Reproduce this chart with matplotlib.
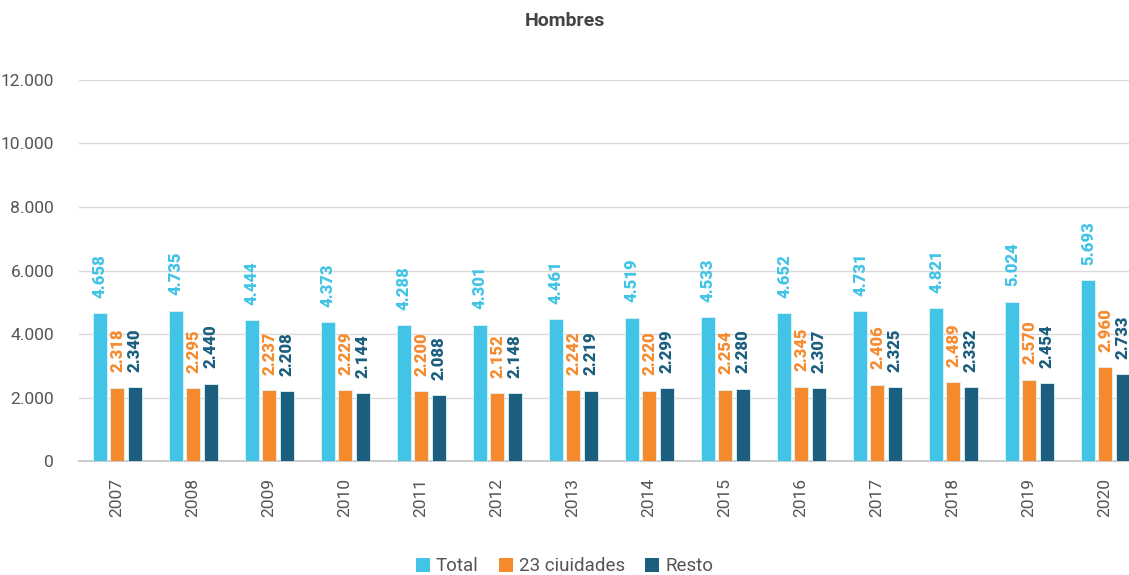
import numpy as np
import matplotlib.pyplot as plt
from matplotlib.patches import Patch

plt.rcParams['font.family'] = ['Roboto', 'DejaVu Sans']

# Data
years = ['2007', '2008', '2009', '2010', '2011', '2012', '2013',
         '2014', '2015', '2016', '2017', '2018', '2019', '2020']
total = [4658, 4735, 4444, 4373, 4288, 4301, 4461, 4519, 4533, 4652, 4731, 4821, 5024, 5693]
ciudades = [2318, 2295, 2237, 2229, 2200, 2152, 2242, 2220, 2254, 2345, 2406, 2489, 2570, 2960]
resto = [2340, 2440, 2208, 2144, 2088, 2148, 2219, 2299, 2280, 2307, 2325, 2332, 2454, 2733]
series_names = ['Total', '23 ciuidades', 'Resto']
colors = ['#41C4E6', '#F58B2D', '#1B5E7E']

def fmt(v):
    # thousands separator as a dot
    return f"{v:,}".replace(',', '.')

fig = plt.figure(figsize=(11.29, 5.75), dpi=100)
ax = fig.add_axes([0.07, 0.198, 0.9425, 0.663])

x = np.arange(len(years))
width = 0.185
offsets = [-0.225, 0.0, 0.235]

for vals, off, col in zip([total, ciudades, resto], offsets, colors):
    bars = ax.bar(x + off, vals, width=width, color=col, edgecolor='#dff3f8', linewidth=0.6, zorder=3)
    for b, v in zip(bars, vals):
        ax.annotate(fmt(v), (b.get_x() + b.get_width() / 2, v),
                    xytext=(0, 11), textcoords='offset points',
                    rotation=90, ha='center', va='bottom',
                    fontsize=12, fontweight='heavy', color=col)

ax.set_ylim(0, 12000)
ax.set_xlim(-0.5, len(years) - 0.5)
ax.set_yticks(np.arange(0, 12001, 2000))
ax.set_yticklabels([fmt(v) for v in range(0, 12001, 2000)])
ax.set_xticks(x)
ax.set_xticklabels(years, rotation=90)
ax.tick_params(axis='y', length=0, pad=18, labelsize=12.5, labelcolor='#555555')
ax.tick_params(axis='x', length=0, pad=12, labelsize=12.5, labelcolor='#555555')
ax.grid(axis='y', color='#d9d9d9', linewidth=1, zorder=0)
for s in ['top', 'right', 'left']:
    ax.spines[s].set_visible(False)
ax.spines['bottom'].set_color('#cccccc')
ax.spines['bottom'].set_linewidth(1.5)

fig.suptitle('Hombres', x=0.5, y=0.98, fontsize=14, fontweight='bold', color='#444444')

handles = [Patch(facecolor=c, edgecolor='none') for c in colors]
fig.legend(handles, series_names, loc='lower center', ncol=3, frameon=False,
           bbox_to_anchor=(0.5, -0.03), fontsize=13.5, labelcolor='#555555',
           handlelength=0.75, handleheight=0.75, handletextpad=0.3, columnspacing=1.1)

fig.savefig('out.png', dpi=100)
